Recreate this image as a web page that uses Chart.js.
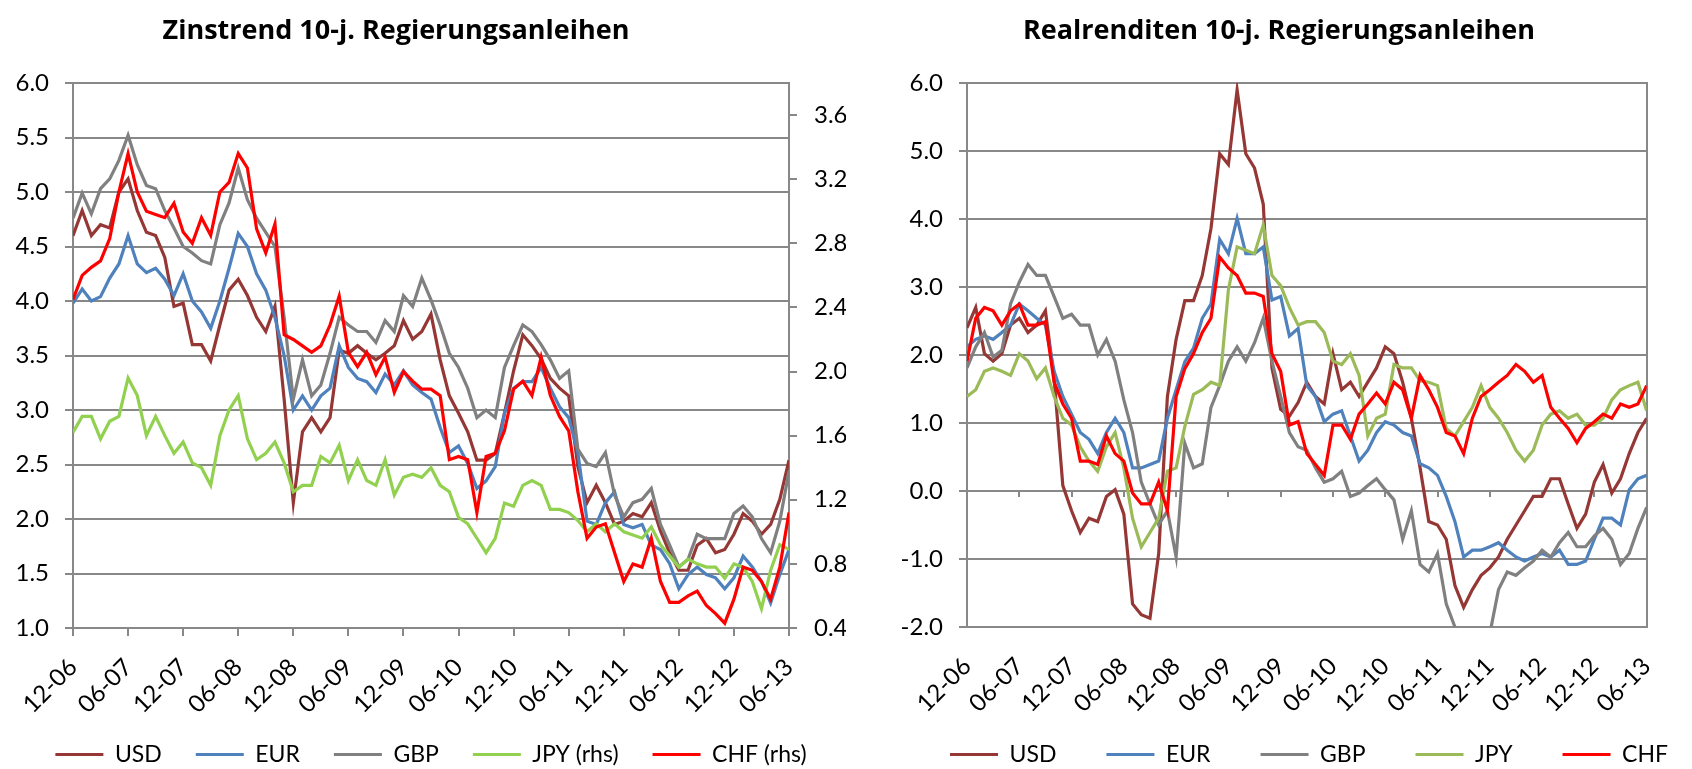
<!DOCTYPE html>
<html>
<head>
<meta charset="utf-8">
<title>Zinstrend und Realrenditen 10-j. Regierungsanleihen</title>
<script src="https://cdn.jsdelivr.net/npm/chart.js@4.4.1/dist/chart.umd.min.js"></script>
<style>
  html, body { margin: 0; padding: 0; background: #fff; }
  #wrap { position: relative; width: 1692px; height: 769px; }
  canvas { position: absolute; top: 0; }
  #zins { left: 0; }
  #real { left: 846px; }
</style>
</head>
<body>
<div id="wrap">
  <canvas id="zins" width="846" height="769"></canvas>
  <canvas id="real" width="846" height="769"></canvas>
</div>
<script>
// x = months since Dec 2006 (0 .. 78 = Jun 2013), one reading per month
const tickLabels = ['12-06', '06-07', '12-07', '06-08', '12-08', '06-09', '12-09',
                    '06-10', '12-10', '06-11', '12-11', '06-12', '12-12', '06-13'];

// Zinstrend (lhs: USD, EUR, GBP; rhs: JPY, CHF)
const zinsUSD = [4.60,
  4.83, 4.60, 4.70, 4.67, 5.00, 5.12, 4.83, 4.63, 4.60, 4.40, 3.95, 3.98,
  3.60, 3.60, 3.45, 3.78, 4.10, 4.20, 4.05, 3.85, 3.72, 3.95, 3.10, 2.15,
  2.80, 2.93, 2.80, 2.93, 3.55, 3.52, 3.59, 3.52, 3.46, 3.52, 3.59, 3.82,
  3.65, 3.72, 3.88, 3.46, 3.13, 2.97, 2.80, 2.54, 2.54, 2.60, 2.97, 3.36,
  3.69, 3.59, 3.47, 3.29, 3.20, 3.13, 2.48, 2.15, 2.31, 2.15, 1.95, 1.98,
  2.05, 2.02, 2.15, 1.89, 1.69, 1.53, 1.53, 1.76, 1.82, 1.69, 1.72, 1.86,
  2.05, 1.98, 1.86, 1.95, 2.18, 2.54];
const zinsEUR = [3.98,
  4.11, 4.00, 4.04, 4.21, 4.34, 4.60, 4.34, 4.26, 4.30, 4.20, 4.05, 4.25,
  4.00, 3.90, 3.75, 4.00, 4.30, 4.62, 4.50, 4.25, 4.10, 3.85, 3.50, 3.00,
  3.13, 3.00, 3.13, 3.20, 3.59, 3.39, 3.29, 3.26, 3.16, 3.33, 3.23, 3.36,
  3.23, 3.16, 3.10, 2.84, 2.61, 2.67, 2.51, 2.28, 2.35, 2.48, 2.97, 3.20,
  3.26, 3.26, 3.39, 3.20, 3.03, 2.93, 2.61, 1.98, 1.95, 2.15, 2.25, 1.95,
  1.92, 1.95, 1.76, 1.72, 1.59, 1.36, 1.49, 1.56, 1.49, 1.46, 1.36, 1.46,
  1.66, 1.56, 1.43, 1.23, 1.49, 1.72];
const zinsGBP = [4.76,
  4.99, 4.80, 5.03, 5.12, 5.29, 5.52, 5.25, 5.06, 5.03, 4.83, 4.67, 4.50,
  4.44, 4.37, 4.34, 4.70, 4.90, 5.22, 4.93, 4.76, 4.63, 4.50, 3.85, 3.10,
  3.46, 3.13, 3.23, 3.52, 3.85, 3.78, 3.72, 3.72, 3.62, 3.82, 3.72, 4.05,
  3.95, 4.21, 4.01, 3.78, 3.52, 3.39, 3.20, 2.93, 3.00, 2.93, 3.39, 3.59,
  3.78, 3.72, 3.60, 3.46, 3.29, 3.36, 2.64, 2.51, 2.48, 2.61, 2.22, 2.02,
  2.15, 2.18, 2.28, 1.95, 1.76, 1.56, 1.63, 1.86, 1.82, 1.82, 1.82, 2.05,
  2.12, 2.02, 1.82, 1.69, 1.98, 2.44];
const zinsJPY = [1.62,
  1.72, 1.72, 1.58, 1.69, 1.72, 1.96, 1.85, 1.60, 1.72, 1.60, 1.49, 1.56,
  1.43, 1.40, 1.29, 1.60, 1.76, 1.85, 1.58, 1.45, 1.49, 1.56, 1.43, 1.25,
  1.29, 1.29, 1.47, 1.43, 1.54, 1.32, 1.45, 1.32, 1.29, 1.45, 1.23, 1.34,
  1.36, 1.34, 1.40, 1.29, 1.25, 1.09, 1.05, 0.96, 0.87, 0.96, 1.18, 1.16,
  1.29, 1.32, 1.29, 1.14, 1.14, 1.12, 1.07, 1.00, 1.05, 1.00, 1.05, 1.00,
  0.98, 0.96, 1.03, 0.92, 0.85, 0.78, 0.83, 0.80, 0.78, 0.78, 0.71, 0.80,
  0.78, 0.69, 0.52, 0.76, 0.92, 0.89];
const zinsCHF = [2.45,
  2.60, 2.65, 2.69, 2.83, 3.12, 3.36, 3.12, 3.00, 2.98, 2.96, 3.05, 2.87,
  2.80, 2.96, 2.85, 3.12, 3.18, 3.36, 3.27, 2.89, 2.74, 2.92, 2.23, 2.20,
  2.16, 2.12, 2.16, 2.29, 2.47, 2.12, 2.03, 2.12, 1.98, 2.09, 1.87, 2.00,
  1.94, 1.89, 1.89, 1.85, 1.45, 1.47, 1.45, 1.12, 1.47, 1.49, 1.63, 1.89,
  1.94, 1.85, 2.09, 1.85, 1.72, 1.63, 1.25, 0.96, 1.03, 1.05, 0.87, 0.69,
  0.80, 0.78, 0.96, 0.69, 0.56, 0.56, 0.60, 0.63, 0.54, 0.49, 0.43, 0.58,
  0.78, 0.76, 0.69, 0.58, 0.78, 1.12];

// Realrenditen
const realUSD = [2.40,
  2.70, 2.02, 1.91, 2.02, 2.44, 2.54, 2.33, 2.44, 2.65, 1.65, 0.08, -0.29,
  -0.61, -0.40, -0.45, -0.08, 0.02, -0.34, -1.66, -1.82, -1.87, -0.92, 1.39, 2.23,
  2.80, 2.80, 3.17, 3.86, 4.96, 4.80, 5.90, 4.96, 4.75, 4.22, 1.81, 1.20,
  1.10, 1.30, 1.60, 1.39, 1.28, 2.02, 1.49, 1.60, 1.39, 1.60, 1.81, 2.12,
  2.02, 1.60, 1.07, 0.34, -0.45, -0.50, -0.71, -1.39, -1.71, -1.45, -1.24, -1.13,
  -0.97, -0.71, -0.50, -0.29, -0.08, -0.08, 0.18, 0.18, -0.19, -0.55, -0.34, 0.13,
  0.39, -0.03, 0.18, 0.55, 0.86, 1.07];
const realEUR = [2.12,
  2.23, 2.28, 2.23, 2.33, 2.44, 2.75, 2.65, 2.54, 2.44, 1.76, 1.39, 1.13,
  0.86, 0.76, 0.55, 0.86, 1.07, 0.86, 0.34, 0.34, 0.39, 0.44, 1.07, 1.49,
  1.90, 2.10, 2.54, 2.75, 3.70, 3.49, 4.01, 3.49, 3.49, 3.59, 2.81, 2.86,
  2.28, 2.39, 1.55, 1.39, 1.02, 1.13, 1.18, 0.81, 0.44, 0.60, 0.86, 1.02,
  0.97, 0.86, 0.81, 0.40, 0.34, 0.23, -0.08, -0.45, -0.97, -0.87, -0.87, -0.82,
  -0.76, -0.87, -0.97, -1.03, -0.97, -0.92, -0.97, -0.87, -1.08, -1.08, -1.03, -0.71,
  -0.40, -0.40, -0.50, 0.02, 0.18, 0.23];
const realGBP = [1.81,
  2.12, 2.33, 1.97, 2.07, 2.75, 3.07, 3.33, 3.17, 3.17, 2.86, 2.54, 2.60,
  2.44, 2.44, 2.00, 2.23, 1.91, 1.34, 0.86, 0.13, -0.19, -0.50, -0.29, -0.97,
  0.70, 0.34, 0.40, 1.23, 1.55, 1.91, 2.12, 1.91, 2.18, 2.54, 1.91, 1.39,
  0.86, 0.65, 0.60, 0.34, 0.13, 0.18, 0.29, -0.08, -0.03, 0.08, 0.18, 0.02,
  -0.13, -0.71, -0.29, -1.08, -1.19, -0.92, -1.66, -2.00, -2.15, -2.25, -2.20, -2.10,
  -1.45, -1.19, -1.24, -1.13, -1.03, -0.87, -0.97, -0.76, -0.61, -0.82, -0.82, -0.66,
  -0.55, -0.71, -1.08, -0.92, -0.55, -0.24];
const realJPY = [1.39,
  1.49, 1.76, 1.81, 1.76, 1.70, 2.02, 1.91, 1.65, 1.81, 1.39, 1.07, 0.97,
  0.65, 0.44, 0.29, 0.65, 0.86, 0.34, -0.40, -0.82, -0.61, -0.40, 0.29, 0.34,
  0.95, 1.42, 1.49, 1.60, 1.55, 2.96, 3.59, 3.54, 3.49, 3.91, 3.17, 3.02,
  2.70, 2.44, 2.49, 2.49, 2.33, 1.91, 1.86, 2.02, 1.70, 0.81, 1.07, 1.13,
  1.86, 1.81, 1.81, 1.62, 1.60, 1.55, 0.92, 0.81, 1.02, 1.23, 1.55, 1.23,
  1.07, 0.86, 0.60, 0.44, 0.60, 0.97, 1.13, 1.18, 1.07, 1.13, 0.97, 0.97,
  1.07, 1.34, 1.49, 1.55, 1.60, 1.18];
const realCHF = [1.91,
  2.54, 2.70, 2.65, 2.44, 2.65, 2.75, 2.44, 2.44, 2.49, 1.60, 1.28, 1.07,
  0.44, 0.44, 0.39, 0.81, 0.55, 0.44, -0.03, -0.19, -0.19, 0.13, -0.29, 1.39,
  1.80, 2.02, 2.33, 2.54, 3.44, 3.28, 3.17, 2.91, 2.91, 2.86, 2.02, 1.76,
  0.97, 1.02, 0.55, 0.39, 0.23, 0.97, 0.97, 0.76, 1.13, 1.28, 1.44, 1.28,
  1.60, 1.49, 1.07, 1.70, 1.49, 1.23, 0.86, 0.81, 0.55, 1.07, 1.39, 1.49,
  1.60, 1.70, 1.86, 1.76, 1.60, 1.70, 1.23, 1.07, 0.92, 0.71, 0.92, 1.02,
  1.13, 1.07, 1.28, 1.23, 1.28, 1.55];

const FONT = 'Lato, "Open Sans", sans-serif';
Chart.defaults.font.family = FONT;
Chart.defaults.color = '#000';
const gridColor = '#888888';

// titles sit a little left of the plot centre, as in the original
const drawTitle = {
  id: 'drawTitle',
  afterDraw(chart, args, opts) {
    const ctx = chart.ctx;
    ctx.save();
    ctx.font = 'bold 27px "Open Sans", Lato, sans-serif';
    ctx.fillStyle = '#000';
    ctx.textAlign = 'center';
    ctx.fillText(opts.text, opts.x, opts.y);
    ctx.restore();
  }
};

// move the legend row sideways and let the rotated date labels
// use the space down to the legend text without being clipped
const layoutTweaks = {
  id: 'layoutTweaks',
  afterLayout(chart, args, opts) {
    chart.legend.left += opts.dx;
    chart.legend.right += opts.dx;
    const s = chart.scales[opts.labelAxis];
    s.bottom = chart.height;
  }
};

function line(label, values, color, axis, order) {
  return {
    label: label,
    order: order,
    xAxisID: 'x',
    yAxisID: axis,
    data: values.map((v, i) => ({ x: i, y: v })),
    borderColor: color,
    backgroundColor: color,
    borderWidth: 3.2,
    pointRadius: 0,
    tension: 0
  };
}

function legendOpts(gap) {
  return {
    position: 'bottom',
    labels: {
      boxWidth: 48,
      boxHeight: 0,
      padding: gap,
      color: '#000',
      font: { size: 23 },
      sort: (a, b) => a.datasetIndex - b.datasetIndex
    }
  };
}

const xLabelTicks = {
  stepSize: 6,
  autoSkip: false,
  minRotation: 45,
  maxRotation: 45,
  font: { size: 24 },
  callback: v => tickLabels[v / 6]
};

// bottom axis fills the space between plot bottom and legend
const fitBottom = plotBottom => s => {
  s.height = s.chart.height + 7 - s.chart.legend.height - plotBottom;
};

const yTickFont = { size: 24 };

new Chart(document.getElementById('zins'), {
  type: 'line',
  plugins: [drawTitle, layoutTweaks],
  data: {
    datasets: [
      line('USD', zinsUSD, '#953735', 'y', 5),
      line('EUR', zinsEUR, '#4f81bd', 'y', 4),
      line('GBP', zinsGBP, '#808080', 'y', 3),
      line('JPY (rhs)', zinsJPY, '#92d050', 'y2', 2),
      line('CHF (rhs)', zinsCHF, '#ff0000', 'y2', 1)
    ]
  },
  options: {
    responsive: false,
    animation: false,
    devicePixelRatio: 1,
    events: [],
    layout: { padding: { top: 83, left: 0, right: 0, bottom: -7 } },
    plugins: {
      legend: legendOpts(34),
      tooltip: { enabled: false },
      drawTitle: { text: 'Zinstrend 10-j. Regierungsanleihen', x: 396, y: 31 },
      layoutTweaks: { dx: 8, labelAxis: 'x' }
    },
    scales: {
      x: {
        type: 'linear', min: 0, max: 78, position: 'bottom',
        ticks: Object.assign({ padding: 17 }, xLabelTicks),
        grid: { drawOnChartArea: false, tickLength: 8, color: gridColor, lineWidth: 2 },
        border: { display: true, color: gridColor, width: 2 },
        afterFit: fitBottom(628)
      },
      y: {
        min: 1, max: 6,
        ticks: { stepSize: 0.5, padding: 16, font: yTickFont, callback: v => v.toFixed(1) },
        grid: { color: gridColor, lineWidth: 2, tickLength: 8 },
        border: { color: gridColor, width: 2 },
        afterFit: s => { s.width = 73; }
      },
      y2: {
        position: 'right', min: 0.4, max: 3.8,
        ticks: { stepSize: 0.4, includeBounds: false, padding: 17, font: yTickFont, callback: v => v.toFixed(1) },
        grid: { drawOnChartArea: false, color: gridColor, lineWidth: 2, tickLength: 8 },
        border: { color: gridColor, width: 2 },
        afterFit: s => { s.width = 57; }
      }
    }
  }
});

new Chart(document.getElementById('real'), {
  type: 'line',
  plugins: [drawTitle, layoutTweaks],
  data: {
    datasets: [
      line('USD', realUSD, '#953735', 'y', 5),
      line('EUR', realEUR, '#4f81bd', 'y', 4),
      line('GBP', realGBP, '#808080', 'y', 3),
      line('JPY', realJPY, '#9bbb59', 'y', 2),
      line('CHF', realCHF, '#ff0000', 'y', 1)
    ]
  },
  options: {
    responsive: false,
    animation: false,
    devicePixelRatio: 1,
    events: [],
    layout: { padding: { top: 83, left: 0, right: 0, bottom: -7 } },
    plugins: {
      legend: legendOpts(50),
      tooltip: { enabled: false },
      drawTitle: { text: 'Realrenditen 10-j. Regierungsanleihen', x: 433, y: 31 },
      layoutTweaks: { dx: 40, labelAxis: 'x2' }
    },
    scales: {
      // axis crosses at 0: only its tick marks are shown there
      x: {
        type: 'linear', min: 0, max: 78, position: { y: 0 },
        ticks: { stepSize: 6, display: false },
        grid: { drawOnChartArea: false, tickLength: 6, color: gridColor, lineWidth: 2 },
        border: { display: false }
      },
      // labels stay at the bottom of the plot
      x2: {
        type: 'linear', min: 0, max: 78, position: 'bottom',
        ticks: Object.assign({ padding: 25 }, xLabelTicks),
        grid: { display: false, drawTicks: false },
        border: { display: false },
        afterFit: fitBottom(627)
      },
      y: {
        min: -2, max: 6,
        ticks: { stepSize: 1, padding: 16, font: yTickFont, callback: v => v.toFixed(1) },
        grid: { color: gridColor, lineWidth: 2, tickLength: 8 },
        border: { color: gridColor, width: 2 },
        afterFit: s => { s.width = 121; }
      },
      yr: {
        position: 'right', min: -2, max: 6,
        ticks: { display: false },
        grid: { display: false, drawTicks: false },
        border: { display: true, color: gridColor, width: 2 },
        afterFit: s => { s.width = 9; }
      }
    }
  }
});
</script>
</body>
</html>
